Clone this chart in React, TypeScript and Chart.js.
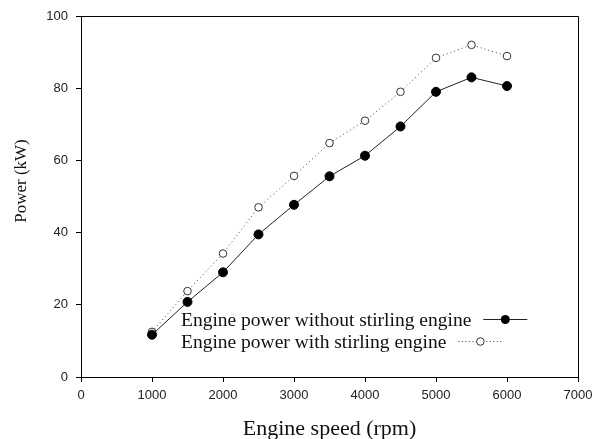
import React, { useEffect, useRef } from "react";
import { Chart, registerables } from "chart.js";

Chart.register(...registerables);

const speeds = [1000, 1500, 2000, 2500, 3000, 3500, 4000, 4500, 5000, 5500, 6000];
const powerWithout = [11.7, 20.8, 29.0, 39.5, 47.7, 55.6, 61.3, 69.4, 79.0, 83.0, 80.6];
const powerWith = [12.5, 23.8, 34.2, 47.0, 55.7, 64.8, 71.0, 79.0, 88.4, 92.0, 88.9];
const seriesLabels = ["Engine power without stirling engine", "Engine power with stirling engine"];
const xTitle = "Engine speed (rpm)";
const yTitle = "Power (kW)";

const overlay = {
  id: "overlay",
  afterDraw(chart: any) {
    const { ctx, chartArea } = chart;
    const { left, right, top, bottom } = chartArea;
    ctx.save();
    // top and right frame
    ctx.strokeStyle = "#000";
    ctx.lineWidth = 1;
    ctx.beginPath();
    ctx.moveTo(left, top + 0.5);
    ctx.lineTo(right + 0.5, top + 0.5);
    ctx.lineTo(right + 0.5, bottom);
    ctx.stroke();

    // axis titles
    ctx.fillStyle = "#111";
    ctx.font = "22px 'Liberation Serif'";
    ctx.textAlign = "center";
    ctx.textBaseline = "alphabetic";
    ctx.fillText(xTitle, (left + right) / 2, 435);
    ctx.font = "17px 'Liberation Serif'";
    ctx.save();
    ctx.translate(26, 181);
    ctx.rotate(-Math.PI / 2);
    ctx.fillText(yTitle, 0, 0);
    ctx.restore();

    // legend
    ctx.font = "19.5px 'Liberation Serif'";
    ctx.textAlign = "left";
    const rows = [
      { y: 326, dash: [] as number[], filled: true, color: "#222" },
      { y: 348, dash: [1, 2.5], filled: false, color: "#444" },
    ];
    rows.forEach((r, i) => {
      const label = seriesLabels[i];
      ctx.fillStyle = "#111";
      ctx.fillText(label, 181, r.y);
      const w = ctx.measureText(label).width;
      const x0 = 181 + w + 12;
      const ly = r.y - 6.5;
      ctx.strokeStyle = r.color;
      ctx.lineWidth = 1;
      ctx.setLineDash(r.dash);
      ctx.beginPath();
      ctx.moveTo(x0, ly);
      ctx.lineTo(x0 + 44, ly);
      ctx.stroke();
      ctx.setLineDash([]);
      ctx.beginPath();
      ctx.arc(x0 + 22, ly, r.filled ? 4.5 : 3.8, 0, Math.PI * 2);
      if (r.filled) {
        ctx.fillStyle = "#000";
        ctx.fill();
      } else {
        ctx.fillStyle = "#fff";
        ctx.fill();
        ctx.strokeStyle = "#333";
        ctx.stroke();
      }
    });
    ctx.restore();
  },
};

export default function App() {
  const ref = useRef<HTMLCanvasElement>(null);
  useEffect(() => {
    document.body.style.margin = "0";
    const chart = new Chart(ref.current!, {
      type: "line",
      data: {
        datasets: [
          {
            label: seriesLabels[0],
            data: speeds.map((s, i) => ({ x: s, y: powerWithout[i] })),
            borderColor: "#222",
            borderWidth: 1,
            pointRadius: 4.5,
            pointBackgroundColor: "#000",
            pointBorderColor: "#000",
            pointBorderWidth: 1,
          },
          {
            label: seriesLabels[1],
            data: speeds.map((s, i) => ({ x: s, y: powerWith[i] })),
            borderColor: "#444",
            borderWidth: 1,
            borderDash: [1, 3],
            pointRadius: 3.8,
            pointBackgroundColor: "#fff",
            pointBorderColor: "#333",
            pointBorderWidth: 1,
          },
        ],
      },
      options: {
        animation: false,
        responsive: false,
        layout: { padding: { left: 0, right: 17, top: 16, bottom: 0 } },
        plugins: { legend: { display: false }, tooltip: { enabled: false } },
        scales: {
          x: {
            type: "linear",
            min: 0,
            max: 7000,
            afterFit: (s: any) => { s.height = 62; s.paddingLeft = 0; s.paddingRight = 0; },
            ticks: {
              stepSize: 1000,
              color: "#222",
              font: { family: "'Liberation Sans'", size: 13 },
              padding: 6,
              maxRotation: 0,
              callback: (v: any) => String(v),
            },
            grid: { drawOnChartArea: false, drawTicks: true, tickLength: 5, color: "#000" },
            border: { display: true, color: "#000", width: 1 },
          },
          y: {
            type: "linear",
            min: 0,
            max: 100,
            afterFit: (s: any) => { s.width = 81; s.paddingTop = 0; s.paddingBottom = 0; },
            ticks: {
              stepSize: 20,
              color: "#222",
              font: { family: "'Liberation Sans'", size: 13 },
              padding: 8,
              callback: (v: any) => String(v),
            },
            grid: { drawOnChartArea: false, drawTicks: true, tickLength: 5, color: "#000" },
            border: { display: true, color: "#000", width: 1 },
          },
        },
      },
      plugins: [overlay],
    });
    return () => chart.destroy();
  }, []);
  return <canvas ref={ref} width={595} height={439} style={{ display: "block" }} />;
}
